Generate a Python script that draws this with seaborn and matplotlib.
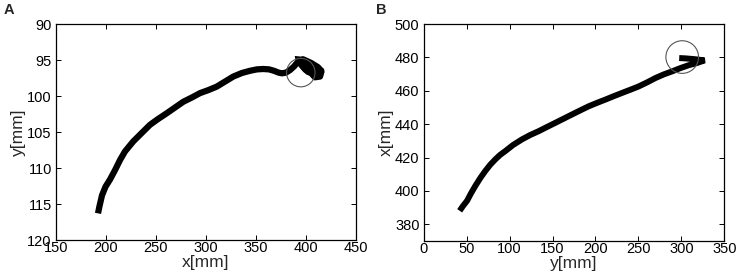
import numpy as np
import pandas as pd
import matplotlib
matplotlib.use("Agg")
import matplotlib.pyplot as plt
import seaborn as sns

# Panel A trajectory (x[mm], y[mm])
a_x = [192.0, 193.5, 196.0, 199.5, 204.0, 209.0, 214.0, 219.0, 227.3, 236.0, 244.0,
       252.0, 260.7, 269.0, 277.3, 286.0, 294.0, 302.0, 310.7, 319.0, 327.3, 336.0,
       344.0, 351.0, 357.3, 363.0, 368.0, 372.5, 376.0, 380.0, 384.0, 388.0, 391.0,
       397.0, 405.0, 412.0, 415.5, 414.0, 409.0, 405.0, 400.0, 394.0, 402.0, 411.0]
a_y = [116.3, 115.3, 113.8, 112.6, 111.6, 110.3, 108.9, 107.7, 106.3, 105.1, 104.0,
       103.2, 102.4, 101.6, 100.8, 100.2, 99.6, 99.2, 98.7, 98.0, 97.3, 96.8,
       96.5, 96.3, 96.25, 96.3, 96.5, 96.75, 96.85, 96.75, 96.4, 95.9, 95.4,
       94.9, 95.4, 96.0, 96.6, 97.3, 97.4, 96.8, 96.4, 95.4, 95.6, 96.6]
# dense end cluster of panel A (outline of the overlapping strokes)
a_blob_x = [390.0, 397.0, 412.0, 417.0, 415.0, 412.0, 408.0, 405.0, 401.0, 397.0, 391.0]
a_blob_y = [94.6, 94.7, 95.8, 96.3, 97.2, 96.8, 97.6, 97.1, 96.9, 96.4, 95.4]
a_circle_x = [394.8]
a_circle_y = [96.75]

# Panel B trajectory (y[mm], x[mm])
b_x = [41.9, 45.5, 50.5, 55.0, 60.1, 66.0, 71.8, 77.5, 83.4, 89.0, 95.1, 104.0,
       114.5, 124.0, 133.9, 143.5, 153.3, 163.0, 172.7, 182.5, 192.1, 202.0, 211.5,
       221.0, 230.9, 240.5, 250.3, 260.0, 269.7, 279.5, 289.1, 299.0, 308.5, 318.0,
       327.0, 316.0, 305.0, 297.5]
b_y = [388.1, 390.8, 394.1, 398.5, 403.0, 407.8, 412.0, 415.7, 418.9, 421.6, 423.9, 427.5,
       430.9, 433.5, 435.8, 438.3, 440.8, 443.3, 445.8, 448.3, 450.7, 452.8, 454.7,
       456.7, 458.7, 460.6, 462.6, 465.0, 467.6, 469.8, 471.6, 473.6, 475.3, 476.6,
       478.2, 478.9, 479.4, 479.6]
b_circle_x = [301.0]
b_circle_y = [480.2]

a_xticks = [150, 200, 250, 300, 350, 400, 450]
a_yticks = [90, 95, 100, 105, 110, 115, 120]
b_xticks = [0, 50, 100, 150, 200, 250, 300, 350]
b_yticks = [380, 400, 420, 440, 460, 480, 500]

sns.set_style("ticks")
plt.rcParams["font.family"] = ["Liberation Sans", "DejaVu Sans"]
plt.rcParams["xtick.direction"] = "in"
plt.rcParams["ytick.direction"] = "in"

fig = plt.figure(figsize=(7.43, 2.79), dpi=100)
axA = fig.add_axes([56/743, 1-240/279, 300/743, 216/279])
axB = fig.add_axes([423.7/743, 1-241/279, 300.6/743, 217/279])

dfA = pd.DataFrame({"x": a_x, "y": a_y})
dfB = pd.DataFrame({"x": b_x, "y": b_y})

sns.lineplot(data=dfA, x="x", y="y", sort=False, estimator=None, ax=axA,
             color="black", linewidth=4.5, solid_capstyle="butt", solid_joinstyle="round")
axA.fill(a_blob_x, a_blob_y, color="black", linewidth=1.5, edgecolor="black", zorder=2)
sns.scatterplot(x=a_circle_x, y=a_circle_y, ax=axA, s=20.5**2, facecolor="none",
                edgecolor="#555555", linewidth=0.8, zorder=3)
axA.set_xlim(150, 450)
axA.set_ylim(120, 90)
axA.set_xticks(a_xticks)
axA.set_yticks(a_yticks)
axA.set_xlabel("x[mm]", fontsize=12.5, labelpad=0)
axA.set_ylabel("y[mm]", fontsize=12.5, labelpad=1)

sns.lineplot(data=dfB, x="x", y="y", sort=False, estimator=None, ax=axB,
             color="black", linewidth=4.3, solid_capstyle="butt", solid_joinstyle="bevel")
sns.scatterplot(x=b_circle_x, y=b_circle_y, ax=axB, s=23.5**2, facecolor="none",
                edgecolor="#555555", linewidth=0.8, zorder=3)
axB.set_xlim(0, 350)
axB.set_ylim(370, 500)
axB.set_xticks(b_xticks)
axB.set_yticks(b_yticks)
axB.set_xlabel("y[mm]", fontsize=12.5, labelpad=0)
axB.set_ylabel("x[mm]", fontsize=12.5, labelpad=1)

for ax in (axA, axB):
    for s in ax.spines.values():
        s.set_visible(True)
        s.set_color("black")
        s.set_linewidth(0.9)
    ax.tick_params(axis="both", which="both", direction="in", length=3.5, width=0.7,
                   top=True, right=True, labelsize=10.5, pad=3, colors="black")
    ax.tick_params(axis="x", pad=1)

fig.text(9/743, 1-10/279, "A", fontsize=10.5, fontweight="bold", ha="center", va="center")
fig.text(381/743, 1-10/279, "B", fontsize=10.5, fontweight="bold", ha="center", va="center")

fig.savefig("out.png", dpi=100)
